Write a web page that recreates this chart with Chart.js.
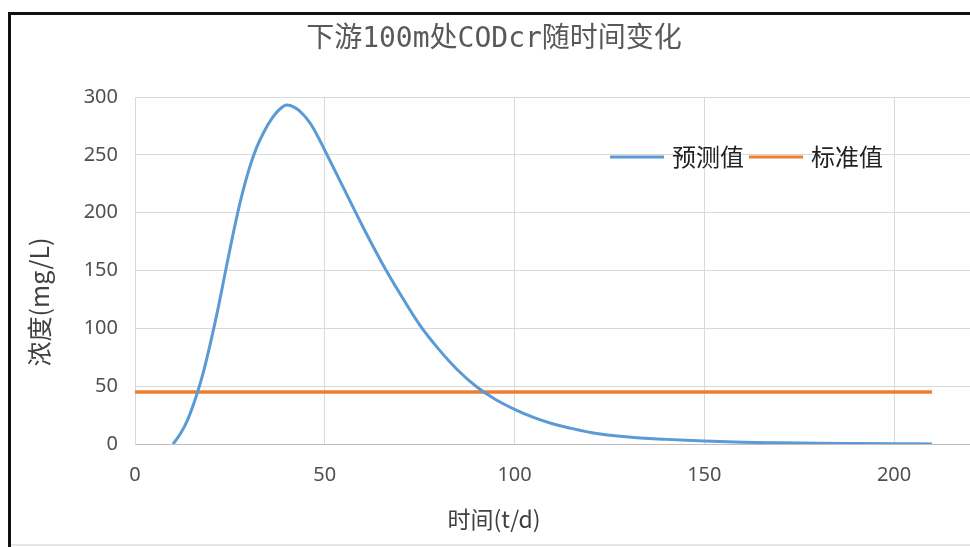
<!DOCTYPE html>
<html>
<head>
<meta charset="utf-8">
<script src="https://cdn.jsdelivr.net/npm/chart.js@4"></script>
<style>
  html, body { margin:0; padding:0; background:#fff; }
  #wrap { width:970px; height:547px; }
</style>
</head>
<body>
<div id="wrap"><canvas id="chart" width="970" height="547"></canvas></div>
<script>
  // ---- données
  const days      = [10,12,14,16,18,20,22,24,26,28,30,32,34,36,38,40,42,44,46,48,50,55,60,65,70,75,80,85,90,95,100,105,110,115,120,130,140,150,160,170,180,190,200,210];
  const predicted = [0,9,22,40,62,89,119,152,184,213,237,256,270,281,289,293,291,286,278,267,254,221,188,157,129,103,82,64,49.5,38.5,30,23,17.5,13.5,10,6,4,2.5,1.5,1,0.6,0.4,0.2,0.1];
  const stdDays   = [0, 210];
  const stdValues = [45, 45];
  const xTicks    = [0, 50, 100, 150, 200];
  const yTicks    = [0, 50, 100, 150, 200, 250, 300];

  const chartTitle = '下游100m处CODcr随时间变化';
  const xTitle     = '时间(t/d)';
  const yTitle     = '浓度(mg/L)';

  const BLUE = '#5b9bd5', ORANGE = '#ed7d31', TXT = '#595959';
  const latin = "'Noto Sans', 'Noto Sans CJK SC', sans-serif";
  const cjk   = "'Noto Sans CJK SC', sans-serif";

  const toXY = (xs, ys) => xs.map((x, i) => ({ x, y: ys[i] }));

  // cadre blanc + bord noir
  const frame = {
    id: 'frame',
    beforeDraw(chart) {
      const { ctx } = chart;
      ctx.save();
      ctx.fillStyle = '#fff';
      ctx.fillRect(0, 0, chart.width, chart.height);
      ctx.fillStyle = '#111';
      ctx.fillRect(8, 12, chart.width - 8, 3);
      ctx.fillRect(8, 12, 3, chart.height - 12);
      ctx.fillStyle = '#e6e6e6';
      ctx.fillRect(11, chart.height - 3, chart.width - 11, 2);
      ctx.restore();
    }
  };

  // titres (décalés comme dans l'original, pas centrés sur la zone)
  const titles = {
    id: 'titles',
    afterDraw(chart) {
      const { ctx } = chart;
      ctx.save();
      ctx.textAlign = 'center';
      ctx.textBaseline = 'middle';
      ctx.fillStyle = TXT;
      ctx.font = "28px 'DejaVu Sans Mono', 'Noto Sans CJK SC', monospace";
      ctx.fillText(chartTitle, 494, 40);
      ctx.fillStyle = '#404040';
      ctx.font = '23px ' + cjk;
      ctx.fillText(xTitle, 494, 519);
      ctx.translate(39, 302);
      ctx.rotate(-Math.PI / 2);
      ctx.font = '25px ' + cjk;
      ctx.fillText(yTitle, 0, 0);
      ctx.restore();
    }
  };

  const innerLegend = {
    id: 'innerLegend',
    afterDraw(chart) {
      const { ctx } = chart;
      let x = 610; const y = 157;
      ctx.save();
      ctx.font = '24px ' + cjk;
      ctx.textBaseline = 'middle';
      chart.data.datasets.forEach(ds => {
        ctx.strokeStyle = ds.borderColor;
        ctx.lineWidth = 3;
        ctx.beginPath(); ctx.moveTo(x, y); ctx.lineTo(x + 54, y); ctx.stroke();
        x += 62;
        ctx.fillStyle = '#222';
        ctx.fillText(ds.label, x, y);
        x += ctx.measureText(ds.label).width + 5;
      });
      ctx.restore();
    }
  };

  new Chart(document.getElementById('chart').getContext('2d'), {
    type: 'line',
    data: {
      datasets: [
        { label: '预测值', data: toXY(days, predicted), borderColor: BLUE, backgroundColor: BLUE,
          borderWidth: 3, pointRadius: 0, cubicInterpolationMode: 'monotone' },
        { label: '标准值', data: toXY(stdDays, stdValues), borderColor: ORANGE, backgroundColor: ORANGE,
          borderWidth: 3.5, pointRadius: 0 }
      ]
    },
    options: {
      responsive: false,
      animation: false,
      layout: { padding: { top: 97, left: 0, right: 0, bottom: 0 } },
      plugins: {
        legend: { display: false },
        tooltip: { enabled: false },
        title: { display: false }
      },
      scales: {
        x: {
          type: 'linear', min: 0, max: 220,
          afterBuildTicks: s => { s.ticks = xTicks.map(v => ({ value: v })); },
          afterFit: s => { s.height = 103; },
          ticks: { color: '#505050', font: { family: latin, size: 20 }, padding: 19, includeBounds: false },
          grid: { color: '#d9d9d9', lineWidth: 1, drawTicks: false },
          border: { color: '#bfbfbf' }
        },
        y: {
          min: 0, max: 300,
          afterBuildTicks: s => { s.ticks = yTicks.map(v => ({ value: v })); },
          afterFit: s => { s.width = 135; },
          ticks: { color: '#505050', font: { family: latin, size: 20 }, padding: 17 },
          grid: { color: '#d9d9d9', lineWidth: 1, drawTicks: false },
          border: { color: '#d9d9d9' }
        }
      }
    },
    plugins: [frame, titles, innerLegend]
  });
</script>
</body>
</html>
